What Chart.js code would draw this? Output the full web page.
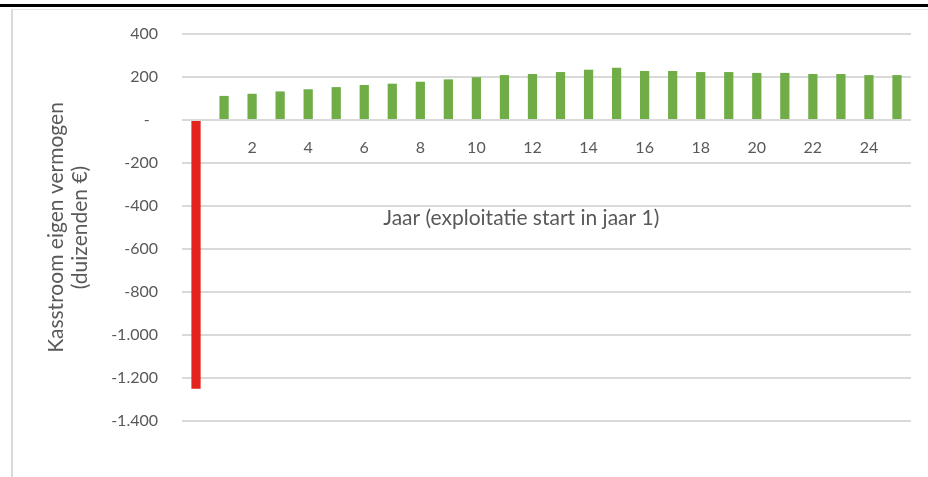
<!DOCTYPE html>
<html lang="nl">
<head>
    <meta charset="UTF-8">
    <title>Kasstroom eigen vermogen</title>
    <style>
        html, body {
            margin: 0;
            padding: 0;
            background: #fff;
            overflow: hidden;
        }

        #wrap {
            position: relative;
            width: 928px;
            height: 477px;
        }

        #top-line {
            position: absolute;
            left: 0;
            top: 4px;
            width: 928px;
            height: 3px;
            background: #000;
        }

        #frame {
            position: absolute;
            left: 11px;
            top: 9px;
            right: 0;
            bottom: 0;
            border-left: 2px solid #d9d9d9;
            border-top: 1px solid #e8e8e8;
        }

        #chart {
            position: absolute;
            left: 0;
            top: 0;
        }
    </style>
</head>

<body>
    <div id="wrap">
        <div id="top-line"></div>
        <div id="frame"></div>
        <canvas id="chart" width="928" height="477"></canvas>
    </div>

    <script src="https://cdn.jsdelivr.net/npm/chart.js@4"></script>
    <script>
        // jaar 0 = investering, exploitatie vanaf jaar 1
        const years = [0, 1, 2, 3, 4, 5, 6, 7, 8, 9, 10, 11, 12, 13, 14, 15, 16, 17, 18, 19, 20, 21, 22, 23, 24, 25];
        // kasstroom eigen vermogen, duizenden euro
        const cashflow = [-1250, 112, 122, 133, 143, 153, 163, 169, 178, 189, 199, 209, 214, 223, 234, 243,
            228, 228, 223, 223, 219, 219, 214, 214, 209, 209];
        const yMin = -1400;
        const yMax = 400;
        const yStep = 200;

        const yTitle = ['Kasstroom eigen vermogen', '(duizenden €)'];
        const xTitle = 'Jaar (exploitatie start in jaar 1)';

        const textColor = '#595959';
        const fontFamily = 'Lato, "Open Sans", sans-serif';

        // 1234 -> "1.234", 0 -> "-"
        function formatNl(v) {
            if (v === 0) return '-  ';
            const s = Math.abs(v).toString().replace(/\B(?=(\d{3})+(?!\d))/g, '.');
            return (v < 0 ? '-' : '') + s;
        }

        // axis title under the bars, a bit left of centre like the original
        const xTitlePlugin = {
            id: 'xTitle',
            beforeDatasetsDraw(chart) {
                const ctx = chart.ctx;
                const x = chart.scales.x.getPixelForValue(11.6);
                const y = chart.scales.y.getPixelForValue(-456);
                ctx.save();
                ctx.font = '21px ' + fontFamily;
                ctx.fillStyle = textColor;
                ctx.textAlign = 'center';
                ctx.textBaseline = 'middle';
                ctx.fillText(xTitle, x, y);
                ctx.restore();
            }
        };

        const ctx = document.getElementById('chart').getContext('2d');

        new Chart(ctx, {
            type: 'bar',
            data: {
                labels: years,
                datasets: [{
                    data: cashflow,
                    backgroundColor: cashflow.map(v => v < 0 ? '#e3231d' : '#70ad47'),
                    barPercentage: 0.33,
                    categoryPercentage: 1
                }]
            },
            options: {
                responsive: false,
                animation: false,
                layout: {
                    padding: {
                        left: 0,
                        right: 17,
                        top: 34,
                        bottom: 56
                    }
                },
                plugins: {
                    legend: { display: false },
                    tooltip: { enabled: false }
                },
                scales: {
                    x: {
                        position: { y: 0 },
                        grid: { display: false, drawTicks: false },
                        border: { display: false },
                        ticks: {
                            autoSkip: false,
                            maxRotation: 0,
                            padding: 18,
                            color: textColor,
                            font: { family: fontFamily, size: 16 },
                            callback: function(value, index) {
                                if (index % 2 !== 0) return null;
                                return years[index] === 0 ? '-' : String(years[index]);
                            }
                        }
                    },
                    y: {
                        min: yMin,
                        max: yMax,
                        grid: {
                            color: '#d9d9d9',
                            lineWidth: 2,
                            drawTicks: false
                        },
                        border: { display: false },
                        ticks: {
                            stepSize: yStep,
                            padding: 24,
                            color: textColor,
                            font: { family: fontFamily, size: 16 },
                            callback: v => formatNl(v)
                        },
                        title: {
                            display: true,
                            text: yTitle,
                            color: textColor,
                            font: { family: fontFamily, size: 21, lineHeight: 1.15 },
                            padding: { top: 44, bottom: 0 }
                        },
                        afterFit: scale => {
                            scale.width = 182;
                        }
                    }
                }
            },
            plugins: [xTitlePlugin]
        });
    </script>
</body>

</html>
